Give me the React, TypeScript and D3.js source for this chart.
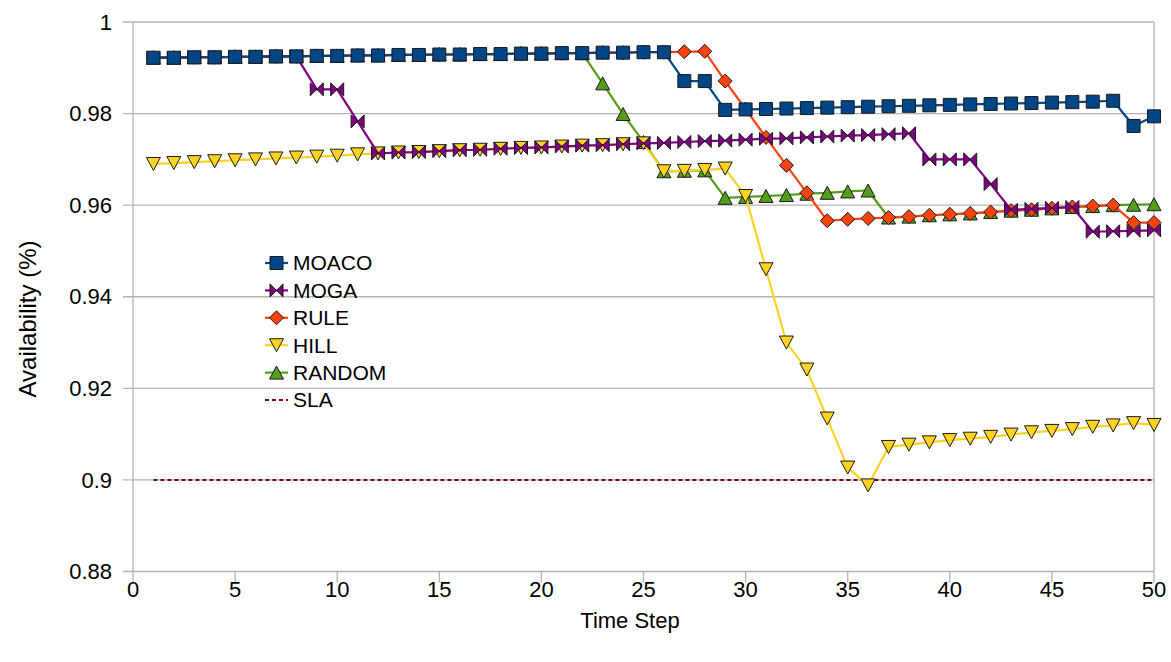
import React from "react";
import * as d3 from "d3";

const steps = d3.range(1, 51);

const moaco = [
  0.9922, 0.9922, 0.9923, 0.9923, 0.9924, 0.9924, 0.9925, 0.9925, 0.9926, 0.9926,
  0.9927, 0.9927, 0.9928, 0.9928, 0.9929, 0.9929, 0.993, 0.993, 0.9931, 0.9931,
  0.9932, 0.9932, 0.9933, 0.9933, 0.9934, 0.9934, 0.9871, 0.9871, 0.9808, 0.9809,
  0.981, 0.9811, 0.9812, 0.9813, 0.9814, 0.9815, 0.9816, 0.9817, 0.9818, 0.9819,
  0.982, 0.9821, 0.9822, 0.9823, 0.9824, 0.9825, 0.9826, 0.9828, 0.9773, 0.9794,
];

const moga = [
  0.9922, 0.9922, 0.9923, 0.9923, 0.9924, 0.9924, 0.9925, 0.9925, 0.9853, 0.9853,
  0.9783, 0.9713, 0.9715, 0.9716, 0.9718, 0.972, 0.9721, 0.9723, 0.9725, 0.9726,
  0.9728, 0.973, 0.9731, 0.9733, 0.9735, 0.9736, 0.9738, 0.974, 0.9741, 0.9743,
  0.9745, 0.9746, 0.9748, 0.975, 0.9752, 0.9753, 0.9755, 0.9757, 0.97, 0.97,
  0.97, 0.9646, 0.959, 0.9592, 0.9594, 0.9596, 0.9542, 0.9543, 0.9544, 0.9545,
];

const rule = [
  0.9922, 0.9922, 0.9923, 0.9923, 0.9924, 0.9924, 0.9925, 0.9925, 0.9926, 0.9926,
  0.9927, 0.9927, 0.9928, 0.9928, 0.9929, 0.9929, 0.993, 0.993, 0.9931, 0.9931,
  0.9932, 0.9932, 0.9933, 0.9933, 0.9934, 0.9934, 0.9935, 0.9936, 0.9871, 0.981,
  0.9748, 0.9687, 0.9627, 0.9566, 0.9569, 0.9571, 0.9573, 0.9575, 0.9578, 0.958,
  0.9582, 0.9585, 0.9588, 0.959, 0.9593, 0.9596, 0.9598, 0.96, 0.9562, 0.9562,
];

const hill = [
  0.969, 0.9692, 0.9694, 0.9696, 0.9698, 0.97, 0.9702, 0.9704, 0.9706, 0.9708,
  0.9711, 0.9713, 0.9715, 0.9716, 0.9718, 0.972, 0.9721, 0.9723, 0.9725, 0.9726,
  0.9728, 0.973, 0.9731, 0.9733, 0.9735, 0.9674, 0.9675, 0.9677, 0.968, 0.962,
  0.946, 0.93, 0.9241, 0.9134, 0.9027, 0.8988, 0.9072, 0.9077, 0.9082, 0.9087,
  0.909, 0.9094, 0.9099, 0.9104, 0.9107, 0.9111, 0.9116, 0.9119, 0.9124, 0.912,
];

const random = [
  0.9922, 0.9922, 0.9923, 0.9923, 0.9924, 0.9924, 0.9925, 0.9925, 0.9926, 0.9926,
  0.9927, 0.9927, 0.9928, 0.9928, 0.9929, 0.9929, 0.993, 0.993, 0.9931, 0.9931,
  0.9932, 0.9932, 0.9866, 0.9799, 0.9738, 0.9674, 0.9675, 0.9676, 0.9616, 0.9618,
  0.962, 0.9622, 0.9625, 0.9627, 0.963, 0.9632, 0.9573, 0.9575, 0.9578, 0.958,
  0.9582, 0.9585, 0.9588, 0.959, 0.9593, 0.9596, 0.9598, 0.96, 0.9601, 0.9602,
];

const slaValue = 0.9;

const xTicks = [0, 5, 10, 15, 20, 25, 30, 35, 40, 45, 50];
const yTicks = [0.88, 0.9, 0.92, 0.94, 0.96, 0.98, 1];

type Series = { name: string; values: number[]; color: string; marker: string };

const series: Series[] = [
  { name: "MOACO", values: moaco, color: "#004586", marker: "square" },
  { name: "MOGA", values: moga, color: "#7e0080", marker: "bowtie" },
  { name: "RULE", values: rule, color: "#ff420e", marker: "diamond" },
  { name: "HILL", values: hill, color: "#ffd320", marker: "down" },
  { name: "RANDOM", values: random, color: "#579d1c", marker: "up" },
];

const FONT = "'Liberation Sans', Arial, sans-serif";

function Marker({ type, x, y, fill }: { type: string; x: number; y: number; fill: string }) {
  const s = 6.5;
  let d = "";
  if (type === "square") d = `M${x - s},${y - s}H${x + s}V${y + s}H${x - s}Z`;
  else if (type === "diamond") d = `M${x},${y - s - 0.5}L${x + s + 0.5},${y}L${x},${y + s + 0.5}L${x - s - 0.5},${y}Z`;
  else if (type === "down") d = `M${x - s - 0.5},${y - s}H${x + s + 0.5}L${x},${y + s}Z`;
  else if (type === "up") d = `M${x - s - 0.5},${y + s}H${x + s + 0.5}L${x},${y - s}Z`;
  else if (type === "bowtie") d = `M${x - s},${y - s}L${x},${y}L${x - s},${y + s}Z M${x + s},${y - s}L${x},${y}L${x + s},${y + s}Z`;
  return <path d={d} fill={fill} stroke="#1a1a1a" strokeWidth={1} strokeLinejoin="miter" />;
}

export default function App() {
  const W = 1171;
  const H = 662;
  const left = 133;
  const right = 1154;
  const top = 22;
  const bottom = 571.5;

  const x = d3.scaleLinear().domain([0, 50]).range([left, right]);
  const y = d3.scaleLinear().domain([0.88, 1]).range([bottom, top]);

  const line = d3
    .line<number>()
    .x((_, i) => x(steps[i]))
    .y((v) => y(v));

  const drawOrder = [...series].reverse();
  const legendItems = [...series.map((s) => ({ name: s.name, color: s.color, marker: s.marker })), { name: "SLA", color: "#7e0021", marker: "none" }];

  return (
    <svg width={W} height={H} style={{ position: "absolute", left: 0, top: 0, background: "#fff" }}>
      <rect x={0} y={0} width={W} height={H} fill="#fff" />
      {/* grid */}
      {yTicks.map((t) => (
        <line key={"g" + t} x1={left - 10} x2={right} y1={y(t)} y2={y(t)} stroke="#b3b3b3" strokeWidth={1.3} />
      ))}
      {xTicks.map((t) => (
        <line key={"xt" + t} x1={x(t)} x2={x(t)} y1={bottom} y2={bottom + 11} stroke="#b3b3b3" strokeWidth={1.3} />
      ))}
      <line x1={left} x2={left} y1={top} y2={bottom} stroke="#b3b3b3" strokeWidth={1.3} />
      <line x1={right} x2={right} y1={top} y2={bottom} stroke="#b3b3b3" strokeWidth={1.3} />

      {/* tick labels */}
      {yTicks.map((t) => (
        <text key={"yl" + t} x={112} y={y(t)} dy="0.35em" textAnchor="end" fontFamily={FONT} fontSize={22} fill="#000">
          {d3.format("~g")(t)}
        </text>
      ))}
      {xTicks.map((t) => (
        <text key={"xl" + t} x={x(t)} y={589} dy="0.35em" textAnchor="middle" fontFamily={FONT} fontSize={22} fill="#000">
          {t}
        </text>
      ))}
      <text x={630} y={620} dy="0.35em" textAnchor="middle" fontFamily={FONT} fontSize={22} fill="#000">
        Time Step
      </text>
      <text transform={`translate(28,${319}) rotate(-90)`} dy="0.35em" textAnchor="middle" fontFamily={FONT} fontSize={24} fill="#000">
        Availability (%)
      </text>

      {/* SLA */}
      <line x1={x(1)} x2={x(50)} y1={y(slaValue)} y2={y(slaValue)} stroke="#7e0021" strokeWidth={2} strokeDasharray="4,3" />

      {/* series */}
      {drawOrder.map((s) => (
        <g key={s.name}>
          <path d={line(s.values) || ""} fill="none" stroke={s.color} strokeWidth={2.2} strokeLinejoin="round" />
          {s.values.map((v, i) => (
            <Marker key={i} type={s.marker} x={x(steps[i])} y={y(v)} fill={s.color} />
          ))}
        </g>
      ))}

      {/* legend */}
      {legendItems.map((it, i) => {
        const cy = 263 + i * 27.4;
        return (
          <g key={it.name}>
            {it.marker === "none" ? (
              <line x1={265} x2={288} y1={cy} y2={cy} stroke={it.color} strokeWidth={2} strokeDasharray="4,3" />
            ) : (
              <>
                <line x1={265} x2={288} y1={cy} y2={cy} stroke={it.color} strokeWidth={2.2} />
                <Marker type={it.marker} x={276.5} y={cy} fill={it.color} />
              </>
            )}
            <text x={293} y={cy} dy="0.35em" fontFamily={FONT} fontSize={21} fill="#000">
              {it.name}
            </text>
          </g>
        );
      })}
    </svg>
  );
}
